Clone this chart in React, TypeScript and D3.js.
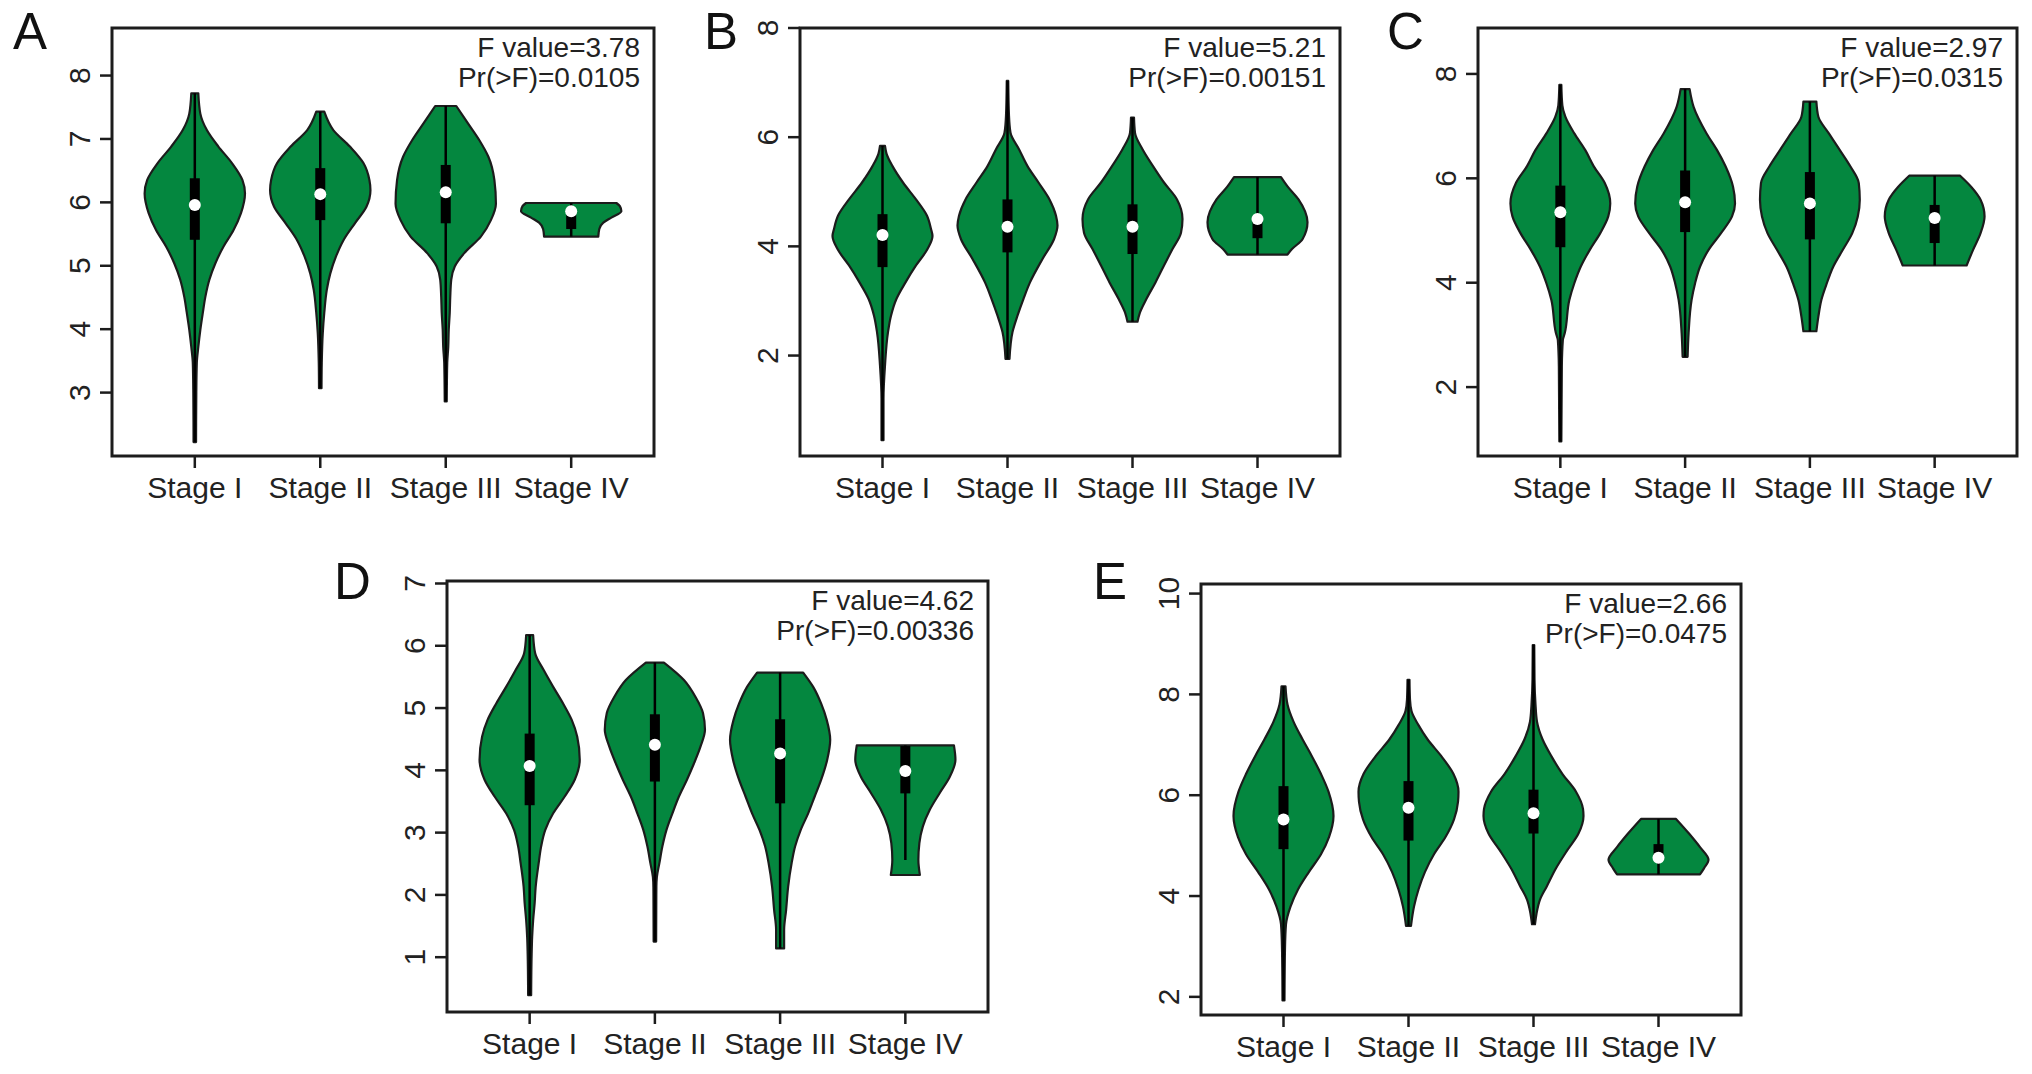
import * as d3 from "d3";
import React from "react";

// [value, relative half-width] pairs, bottom to top
type Prof = [number, number][];

const stages = ["Stage I", "Stage II", "Stage III", "Stage IV"];

const aProfiles: Prof[] = [
  [[2.22, 0.025], [3.0, 0.03], [3.47, 0.04], [3.72, 0.07], [3.99, 0.11], [4.26, 0.16], [4.51, 0.21], [4.78, 0.29], [5.04, 0.41], [5.3, 0.57], [5.56, 0.77], [5.83, 0.92], [6.14, 1.0], [6.35, 0.95], [6.62, 0.74], [6.88, 0.47], [7.14, 0.24], [7.4, 0.11], [7.72, 0.07]],
  [[3.07, 0.025], [3.47, 0.03], [3.94, 0.05], [4.26, 0.08], [4.62, 0.13], [4.88, 0.2], [5.14, 0.31], [5.4, 0.46], [5.67, 0.69], [5.93, 0.92], [6.19, 1.0], [6.35, 0.98], [6.62, 0.86], [6.88, 0.59], [7.14, 0.26], [7.43, 0.08]],
  [[2.86, 0.02], [3.47, 0.03], [3.72, 0.05], [3.99, 0.06], [4.26, 0.08], [4.51, 0.09], [4.78, 0.11], [4.99, 0.18], [5.2, 0.37], [5.46, 0.7], [5.72, 0.9], [5.98, 1.0], [6.35, 0.97], [6.72, 0.85], [6.98, 0.67], [7.25, 0.44], [7.52, 0.21]],
  [[5.46, 0.54], [5.58, 0.56], [5.68, 0.64], [5.76, 0.8], [5.86, 1.0], [5.94, 0.97], [5.99, 0.9]],
];
// q1, median, q3
const aBoxes = [[5.41, 5.96, 6.38], [5.72, 6.13, 6.54], [5.67, 6.16, 6.59], [5.58, 5.86, 5.88]];

const bProfiles: Prof[] = [
  [[0.45, 0.02], [1.21, 0.02], [1.82, 0.05], [2.43, 0.11], [2.73, 0.17], [3.04, 0.28], [3.34, 0.46], [3.65, 0.67], [3.95, 0.9], [4.19, 1.0], [4.32, 0.97], [4.56, 0.89], [4.86, 0.67], [5.17, 0.41], [5.47, 0.2], [5.7, 0.08], [5.84, 0.05]],
  [[1.94, 0.04], [2.43, 0.1], [2.73, 0.2], [3.04, 0.32], [3.34, 0.45], [3.77, 0.7], [4.13, 0.93], [4.38, 1.0], [4.56, 0.97], [4.86, 0.84], [5.17, 0.62], [5.47, 0.4], [5.78, 0.23], [6.08, 0.06], [6.39, 0.03], [7.03, 0.015]],
  [[2.62, 0.1], [2.79, 0.15], [3.04, 0.28], [3.34, 0.46], [3.65, 0.63], [3.95, 0.8], [4.25, 0.97], [4.5, 1.0], [4.86, 0.89], [5.17, 0.63], [5.47, 0.41], [5.78, 0.2], [6.08, 0.05], [6.36, 0.03]],
  [[3.85, 0.6], [3.95, 0.69], [4.13, 0.9], [4.44, 1.0], [4.86, 0.82], [5.1, 0.6], [5.27, 0.47]],
];
const bBoxes = [[3.62, 4.21, 4.59], [3.89, 4.36, 4.86], [3.86, 4.36, 4.77], [4.15, 4.5, 4.55]];

const cProfiles: Prof[] = [
  [[0.96, 0.02], [2.4, 0.03], [2.9, 0.05], [3.04, 0.09], [3.67, 0.18], [3.99, 0.28], [4.31, 0.41], [4.63, 0.59], [4.95, 0.8], [5.27, 0.96], [5.52, 1.0], [5.91, 0.89], [6.23, 0.67], [6.54, 0.5], [6.86, 0.28], [7.18, 0.1], [7.4, 0.04], [7.79, 0.02]],
  [[2.58, 0.05], [3.04, 0.07], [3.67, 0.13], [3.99, 0.2], [4.31, 0.3], [4.63, 0.47], [4.95, 0.72], [5.27, 0.94], [5.52, 1.0], [5.84, 0.96], [6.23, 0.81], [6.54, 0.64], [6.86, 0.43], [7.37, 0.17], [7.71, 0.09]],
  [[3.07, 0.13], [3.35, 0.17], [3.67, 0.23], [3.99, 0.34], [4.31, 0.47], [4.63, 0.66], [4.95, 0.85], [5.27, 0.96], [5.59, 1.0], [5.91, 0.98], [6.23, 0.81], [6.54, 0.6], [6.86, 0.38], [7.18, 0.17], [7.47, 0.13]],
  [[4.33, 0.64], [4.63, 0.77], [4.95, 0.92], [5.27, 1.0], [5.59, 0.92], [5.84, 0.73], [6.05, 0.51]],
];
const cBoxes = [[4.68, 5.35, 5.86], [4.97, 5.54, 6.15], [4.83, 5.52, 6.12], [4.76, 5.24, 5.49]];

const dProfiles: Prof[] = [
  [[0.39, 0.03], [1.06, 0.04], [1.33, 0.05], [1.6, 0.07], [1.87, 0.1], [2.13, 0.12], [2.51, 0.18], [2.78, 0.23], [3.04, 0.31], [3.31, 0.47], [3.58, 0.7], [3.85, 0.9], [4.17, 1.0], [4.54, 0.95], [4.81, 0.84], [5.07, 0.67], [5.34, 0.47], [5.61, 0.28], [5.88, 0.11], [6.17, 0.07]],
  [[1.25, 0.025], [2.13, 0.03], [2.29, 0.04], [2.51, 0.09], [2.78, 0.15], [3.04, 0.23], [3.31, 0.35], [3.58, 0.48], [3.85, 0.64], [4.11, 0.78], [4.38, 0.91], [4.65, 1.0], [4.92, 0.96], [5.18, 0.81], [5.45, 0.58], [5.73, 0.18]],
  [[1.14, 0.08], [1.44, 0.08], [1.76, 0.12], [2.13, 0.16], [2.51, 0.23], [2.78, 0.3], [3.04, 0.41], [3.31, 0.56], [3.58, 0.69], [3.85, 0.82], [4.17, 0.94], [4.49, 1.0], [4.81, 0.93], [5.07, 0.82], [5.34, 0.66], [5.57, 0.46]],
  [[2.32, 0.29], [2.56, 0.26], [2.83, 0.28], [3.1, 0.35], [3.37, 0.49], [3.64, 0.69], [3.9, 0.89], [4.17, 1.0], [4.4, 0.97]],
];
const dBoxes = [[3.44, 4.07, 4.59], [3.82, 4.41, 4.9], [3.47, 4.27, 4.82], [3.63, 3.99, 4.39]];

const eProfiles: Prof[] = [
  [[1.93, 0.02], [2.96, 0.03], [3.44, 0.05], [3.79, 0.14], [4.13, 0.29], [4.48, 0.51], [4.83, 0.75], [5.17, 0.91], [5.59, 1.0], [6.07, 0.9], [6.42, 0.75], [6.77, 0.57], [7.11, 0.38], [7.46, 0.2], [7.8, 0.08], [8.16, 0.04]],
  [[3.41, 0.05], [3.79, 0.11], [4.13, 0.2], [4.48, 0.33], [4.83, 0.51], [5.17, 0.74], [5.52, 0.91], [5.87, 0.99], [6.07, 1.0], [6.42, 0.9], [6.77, 0.66], [7.11, 0.38], [7.39, 0.2], [7.67, 0.06], [7.9, 0.03], [8.29, 0.02]],
  [[3.44, 0.03], [3.65, 0.06], [3.93, 0.13], [4.2, 0.27], [4.55, 0.45], [4.9, 0.67], [5.24, 0.9], [5.59, 1.0], [5.73, 0.99], [6.07, 0.85], [6.42, 0.58], [6.77, 0.36], [7.11, 0.18], [7.46, 0.07], [7.8, 0.04], [8.3, 0.02], [8.98, 0.015]],
  [[4.43, 0.83], [4.55, 0.91], [4.72, 1.0], [4.97, 0.83], [5.24, 0.61], [5.53, 0.35]],
];
const eBoxes = [[4.93, 5.52, 6.18], [5.1, 5.75, 6.28], [5.24, 5.64, 6.11], [4.76, 4.76, 5.03]];

// whisker ends [low, high]
const whiskers: Record<string, number[][]> = {
  D: [[0.39, 6.17], [1.25, 5.73], [1.14, 5.57], [2.56, 4.4]],
};

const panels = [
  { tag: "A", box: [112, 654, 28, 456], ydom: [2.0, 8.75], ticks: [3, 4, 5, 6, 7, 8], prof: aProfiles, boxes: aBoxes, f: "F value=3.78", p: "Pr(>F)=0.0105" },
  { tag: "B", box: [800, 1340, 28, 456], ydom: [0.16, 8.0], ticks: [2, 4, 6, 8], prof: bProfiles, boxes: bBoxes, f: "F value=5.21", p: "Pr(>F)=0.00151" },
  { tag: "C", box: [1478, 2017, 28, 456], ydom: [0.68, 8.88], ticks: [2, 4, 6, 8], prof: cProfiles, boxes: cBoxes, f: "F value=2.97", p: "Pr(>F)=0.0315" },
  { tag: "D", box: [447, 988, 581, 1012], ydom: [0.12, 7.04], ticks: [1, 2, 3, 4, 5, 6, 7], prof: dProfiles, boxes: dBoxes, f: "F value=4.62", p: "Pr(>F)=0.00336" },
  { tag: "E", box: [1201, 1741, 584, 1015], ydom: [1.64, 10.19], ticks: [2, 4, 6, 8, 10], prof: eProfiles, boxes: eBoxes, f: "F value=2.66", p: "Pr(>F)=0.0475" },
];
const letterPos = [[13, 49], [704, 49], [1387, 49], [334, 599], [1093, 599]];

const FONT = "'Liberation Sans', Arial, Helvetica, sans-serif";
const GREEN = "#04873f";
const INK = "#1c1c1c";

const App: React.FC = (): React.ReactElement => {
  const ref = React.useRef<SVGSVGElement>(null);

  React.useEffect(() => {
    const svg = d3.select(ref.current);
    svg.selectAll("*").remove();

    panels.forEach((pn, pi) => {
      const [l, r, t, b] = pn.box;
      const x = d3.scaleLinear().domain([0.34, 4.66]).range([l, r]);
      const y = d3.scaleLinear().domain(pn.ydom).range([b, t]);
      const hw = x(1.4) - x(1); // max half width = 0.4 units
      const g = svg.append("g");

      pn.prof.forEach((prof, i) => {
        const cx = x(i + 1);
        const area = d3
          .area<[number, number]>()
          .curve(d3.curveMonotoneY)
          .y((d) => y(d[0]))
          .x0((d) => cx - d[1] * hw)
          .x1((d) => cx + d[1] * hw);
        g.append("path")
          .attr("d", area(prof) as string)
          .attr("fill", GREEN)
          .attr("stroke", INK)
          .attr("stroke-width", 2.2)
          .attr("stroke-linejoin", "round");

        const wk = whiskers[pn.tag]
          ? whiskers[pn.tag][i]
          : [prof[0][0], prof[prof.length - 1][0]];
        g.append("line")
          .attr("x1", cx).attr("x2", cx)
          .attr("y1", y(wk[0])).attr("y2", y(wk[1]))
          .attr("stroke", "#000").attr("stroke-width", 2.5);

        const [q1, med, q3] = pn.boxes[i];
        g.append("rect")
          .attr("x", cx - 5).attr("width", 10)
          .attr("y", y(q3)).attr("height", Math.max(1, y(q1) - y(q3)))
          .attr("fill", "#000");
        g.append("circle")
          .attr("cx", cx).attr("cy", y(med)).attr("r", 6)
          .attr("fill", "#fff");
      });

      // frame
      g.append("rect")
        .attr("x", l).attr("y", t)
        .attr("width", r - l).attr("height", b - t)
        .attr("fill", "none").attr("stroke", INK).attr("stroke-width", 3);

      // y axis
      pn.ticks.forEach((tv) => {
        g.append("line")
          .attr("x1", l - 12).attr("x2", l)
          .attr("y1", y(tv)).attr("y2", y(tv))
          .attr("stroke", INK).attr("stroke-width", 2.5);
        g.append("text")
          .attr("transform", `translate(${l - 22},${y(tv)}) rotate(-90)`)
          .attr("text-anchor", "middle")
          .attr("font-family", FONT)
          .attr("font-size", 30)
          .attr("fill", "#222")
          .text(String(tv));
      });

      // x axis
      stages.forEach((s, i) => {
        g.append("line")
          .attr("x1", x(i + 1)).attr("x2", x(i + 1))
          .attr("y1", b).attr("y2", b + 12)
          .attr("stroke", INK).attr("stroke-width", 2.5);
        g.append("text")
          .attr("x", x(i + 1)).attr("y", b + 42)
          .attr("text-anchor", "middle")
          .attr("font-family", FONT)
          .attr("font-size", 30)
          .attr("fill", "#222")
          .text(s);
      });

      g.append("text")
        .attr("x", r - 14).attr("y", t + 29)
        .attr("text-anchor", "end")
        .attr("font-family", FONT).attr("font-size", 28).attr("fill", "#222")
        .text(pn.f);
      g.append("text")
        .attr("x", r - 14).attr("y", t + 59)
        .attr("text-anchor", "end")
        .attr("font-family", FONT).attr("font-size", 28).attr("fill", "#222")
        .text(pn.p);

      svg.append("text")
        .attr("x", letterPos[pi][0]).attr("y", letterPos[pi][1])
        .attr("font-family", FONT).attr("font-size", 51).attr("fill", "#111")
        .text(pn.tag);
    });
  }, []);

  return (
    <svg
      ref={ref}
      width={2032}
      height={1074}
      style={{ position: "absolute", left: 0, top: 0, background: "#fff" }}
    />
  );
};

export default App;
